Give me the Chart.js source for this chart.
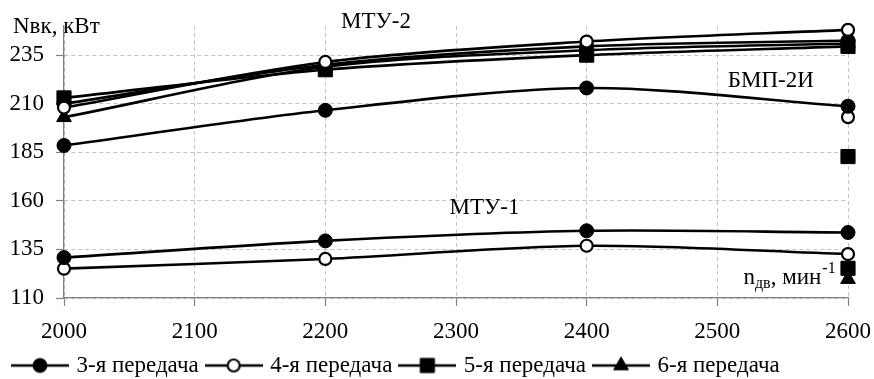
<!DOCTYPE html>
<html><head><meta charset="utf-8">
<script src="https://cdn.jsdelivr.net/npm/chart.js@4.4.1/dist/chart.umd.min.js"></script>
<style>html,body{margin:0;padding:0;background:#fff}#wrap{width:874px;height:379px;position:relative}</style>
</head><body><div id="wrap"><canvas id="c"></canvas></div>
<script>
// ---- data ----
const rpm = [2000, 2200, 2400, 2600];
const xTicks = [2000, 2100, 2200, 2300, 2400, 2500, 2600];
const yTicks = [110, 135, 160, 185, 210, 235];
// МТУ-2
const mtu2Gear3 = [210, 230, 239.5, 242.5];
const mtu2Gear4 = [208, 231.5, 242, 248];
const mtu2Gear5 = [213, 227.5, 235, 239.5];
const mtu2Gear6 = [203, 229, 237.5, 241];
// БМП-2И
const bmpGear3 = [188.5, 206.6, 218.1, 208.7];
const bmpGear4 = [null, null, null, 203.1];
const bmpGear5 = [null, null, null, 182.8];
// МТУ-1
const mtu1Gear3 = [130.8, 139.4, 144.6, 143.7];
const mtu1Gear4 = [125.1, 130.1, 136.9, 132.6];
const mtu1Gear5 = [null, null, null, 125.3];
const mtu1Gear6 = [null, null, null, 119.7];
const legendLabels = ['3-я передача', '4-я передача', '5-я передача', '6-я передача'];
const yTitle = 'Nвк, кВт';
const groupLabels = [
  {text: 'МТУ-2', x: 2212, y: 248.9},
  {text: 'БМП-2И', x: 2508, y: 218.5},
  {text: 'МТУ-1', x: 2295, y: 153.4}
];

// ---- styles ----
const FONT = 'Liberation Serif, Times New Roman, serif';
const gearStyle = [
  {pointStyle: 'circle', radius: 7, bg: '#000', bw: 1},
  {pointStyle: 'circle', radius: 6, bg: '#fff', bw: 2.2},
  {pointStyle: 'rect', radius: 10, bg: '#000', bw: 1},
  {pointStyle: 'triangle', radius: 8.5, bg: '#000', bw: 1}
];

function pts(vals) { return rpm.map((x, i) => ({x: x, y: vals[i]})); }
function ds(vals, gear) {
  const s = gearStyle[gear];
  return {
    data: pts(vals), gear: gear,
    borderColor: '#000', borderWidth: 2.6, tension: 0.3,
    pointStyle: s.pointStyle, pointRadius: s.radius, pointHoverRadius: s.radius,
    pointBackgroundColor: s.bg, pointBorderColor: '#000', pointBorderWidth: s.bw,
    spanGaps: false, clip: false, fill: false
  };
}

function legendIcon(gear) {
  const c = document.createElement('canvas');
  c.width = 58; c.height = 22;
  const g = c.getContext('2d');
  g.strokeStyle = '#000'; g.lineWidth = 2.6;
  g.beginPath(); g.moveTo(0, 11); g.lineTo(58, 11); g.stroke();
  const s = gearStyle[gear];
  const cx = 29, cy = 11;
  g.fillStyle = s.bg; g.lineWidth = s.bw;
  g.beginPath();
  if (s.pointStyle === 'circle') {
    g.arc(cx, cy, s.radius, 0, Math.PI * 2);
  } else if (s.pointStyle === 'rect') {
    const h = Math.SQRT1_2 * s.radius;
    g.rect(cx - h, cy - h, 2 * h, 2 * h);
  } else {
    const r = s.radius;
    g.moveTo(cx, cy - r);
    g.lineTo(cx + r * Math.sin(2 * Math.PI / 3), cy + r * 0.5);
    g.lineTo(cx - r * Math.sin(2 * Math.PI / 3), cy + r * 0.5);
    g.closePath();
  }
  g.fill(); g.stroke();
  return c;
}
const icons = [0, 1, 2, 3].map(legendIcon);

const textPlugin = {
  id: 'texts',
  afterDatasetsDraw(chart) {
    const ctx = chart.ctx, xs = chart.scales.x, ys = chart.scales.y;
    ctx.save();
    ctx.fillStyle = '#000';
    ctx.textBaseline = 'alphabetic';
    ctx.textAlign = 'left';
    ctx.font = '23px ' + FONT;
    groupLabels.forEach(l => ctx.fillText(l.text, xs.getPixelForValue(l.x), ys.getPixelForValue(l.y)));
    // y title
    ctx.fillText(yTitle, 13, 33);
    // x title n_дв, мин^-1
    let px = xs.getPixelForValue(2520), py = ys.getPixelForValue(117.2);
    ctx.fillText('n', px, py); px += ctx.measureText('n').width;
    ctx.font = '16px ' + FONT;
    ctx.fillText('дв', px, py + 4); px += ctx.measureText('дв').width;
    ctx.font = '23px ' + FONT;
    ctx.fillText(', мин', px, py); px += ctx.measureText(', мин').width + 1;
    ctx.font = '16px ' + FONT;
    ctx.fillText('-1', px, py - 11);
    ctx.restore();
  }
};

new Chart(document.getElementById('c'), {
  type: 'line',
  data: {
    datasets: [
      ds(mtu2Gear4, 1), ds(mtu2Gear3, 0), ds(mtu2Gear6, 3), ds(mtu2Gear5, 2),
      ds(bmpGear3, 0), ds(bmpGear4, 1), ds(bmpGear5, 2),
      ds(mtu1Gear3, 0), ds(mtu1Gear4, 1), ds(mtu1Gear5, 2), ds(mtu1Gear6, 3)
    ]
  },
  options: {
    responsive: true, maintainAspectRatio: false, animation: false,
    layout: {padding: {left: 5, right: 26, top: 26, bottom: -8}},
    plugins: {
      tooltip: {enabled: false},
      legend: {
        display: true, position: 'bottom', align: 'start',
        onClick: null,
        labels: {
          usePointStyle: true, pointStyleWidth: 50, padding: 10,
          color: '#000', font: {family: FONT, size: 23},
          generateLabels: () => legendLabels.map((t, i) => ({
            text: t, pointStyle: icons[i], fillStyle: '#000', strokeStyle: '#000',
            lineWidth: 0, hidden: false, datasetIndex: i, fontColor: '#000'
          }))
        }
      }
    },
    scales: {
      x: {
        type: 'linear', min: 2000, max: 2600,
        afterBuildTicks: s => { s.ticks = xTicks.map(v => ({value: v})); },
        afterFit: s => { s.height = 46; s.paddingLeft = 0; s.paddingRight = 0; },
        grid: {color: '#c4c4c4', lineWidth: 1, tickLength: 8, tickColor: '#808080', tickWidth: 1.2, tickBorderDash: []},
        border: {display: true, color: '#808080', width: 1.3, dash: [4, 3]},
        ticks: {color: '#000', font: {family: FONT, size: 23}, padding: 12, maxRotation: 0, autoSkip: false,
          callback: v => String(v)}
      },
      y: {
        type: 'linear', min: 110, max: 250,
        afterBuildTicks: s => { s.ticks = yTicks.map(v => ({value: v})); },
        afterFit: s => { s.width = 59; s.paddingTop = 0; s.paddingBottom = 0; },
        grid: {color: '#c4c4c4', lineWidth: 1, tickLength: 8, tickColor: '#808080', tickWidth: 1.2, tickBorderDash: []},
        border: {display: true, color: '#808080', width: 1.3, dash: [4, 3]},
        ticks: {color: '#000', font: {family: FONT, size: 23}, padding: 12, callback: v => String(v)}
      }
    }
  },
  plugins: [textPlugin]
});
</script>
</body></html>
